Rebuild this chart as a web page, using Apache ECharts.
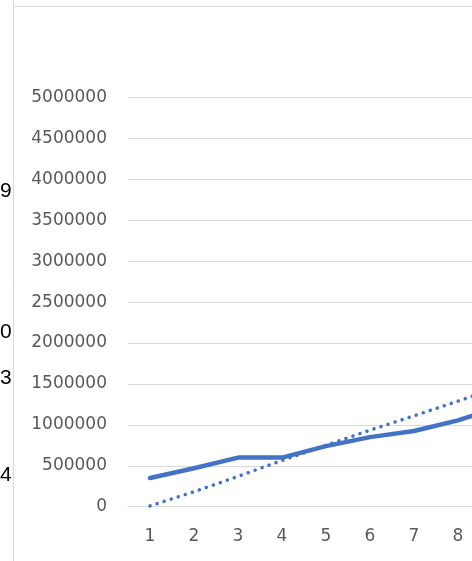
<!DOCTYPE html>
<html>
<head>
<meta charset="utf-8">
<script src="https://cdn.jsdelivr.net/npm/echarts@6/dist/echarts.min.js"></script>
<style>
html,body{margin:0;padding:0;background:#fff;overflow:hidden;width:472px;height:561px;}
#c{width:524px;height:561px;}
</style>
</head>
<body>
<div id="c"></div>
<script>
var categories = ['1','2','3','4','5','6','7','8','9'];
var values = [350000, 470000, 600000, 600000, 740000, 850000, 925000, 1055000, 1230000];
var trend = [10000, 183000, 370000, 565000, 750000, 935000, 1110000, 1290000, 1480000];
var sideLabels = ['9','0','3','4'];
var sideLabelY = [193, 334, 380, 477];

var chart = echarts.init(document.getElementById('c'), null, {renderer:'canvas'});
var graphics = [
  {type:'line', shape:{x1:13.5, y1:0, x2:13.5, y2:561}, style:{stroke:'#d9d9d9', lineWidth:1}, z:10},
  {type:'line', shape:{x1:13, y1:6.5, x2:524, y2:6.5}, style:{stroke:'#d9d9d9', lineWidth:1}, z:10}
];
sideLabels.forEach(function(t,i){
  graphics.push({type:'text', left: 0, top: sideLabelY[i]-12,
    style:{text:t, fill:'#000', font:'21px "Liberation Sans", Arial, sans-serif', x:-1}});
});
chart.setOption({
  animation:false,
  backgroundColor:'#fff',
  grid:{left:128, top:97.5, right:0, bottom:54.3, containLabel:false},
  xAxis:{
    type:'category', data:categories, boundaryGap:true,
    axisLine:{show:true, lineStyle:{color:'#d9d9d9', width:1}},
    axisTick:{show:false},
    axisLabel:{color:'#595959', fontSize:17, fontFamily:'DejaVu Sans', margin:21}
  },
  yAxis:{
    type:'value', min:0, max:5000000, interval:500000,
    axisLine:{show:false}, axisTick:{show:false},
    splitLine:{lineStyle:{color:'#d9d9d9', width:1}},
    axisLabel:{color:'#595959', fontSize:17, fontFamily:'DejaVu Sans', margin:21,
      formatter:function(v){return String(v);}}
  },
  series:[
    {type:'line', data:values, symbol:'none', z:3,
     lineStyle:{color:'#4472C4', width:4.5, cap:'round', join:'round'}},
    {type:'line', data:trend, symbol:'none', z:2,
     lineStyle:{color:'#4472C4', width:3.5, type:[0.1,7.3], cap:'round'}}
  ],
  graphic:graphics
});
</script>
</body>
</html>
